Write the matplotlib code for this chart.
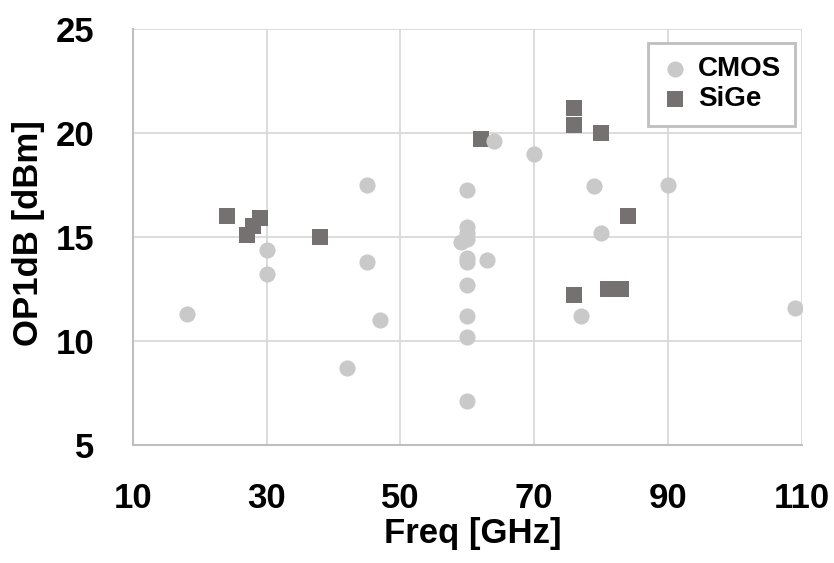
import matplotlib
matplotlib.use("Agg")
import matplotlib.pyplot as plt
from matplotlib import font_manager as fm

names = {f.name for f in fm.fontManager.ttflist}
family = "Liberation Sans Narrow" if "Liberation Sans Narrow" in names else "Liberation Sans"
plt.rcParams['font.family'] = [family, 'DejaVu Sans']
plt.rcParams['font.weight'] = 'bold'

cmos_freq = [18, 30, 30, 42, 45, 45, 47, 59, 60, 60, 60, 60, 60, 60, 60, 60, 60, 60,
             63, 64, 70, 77, 79, 80, 90, 109]
cmos_op1db = [11.3, 14.35, 13.2, 8.7, 17.5, 13.8, 11.0, 14.75, 17.25, 15.5, 15.2, 14.9,
              14.0, 13.8, 12.7, 11.2, 10.2, 7.1, 13.9, 19.6, 19.0, 11.2, 17.45, 15.2, 17.5, 11.6]

sige_freq = [24, 27, 28, 29, 38, 62, 76, 76, 76, 80, 81, 83, 84]
sige_op1db = [16.0, 15.1, 15.55, 15.9, 15.0, 19.7, 21.2, 20.4, 12.2, 20.0, 12.5, 12.5, 16.0]

xticks = [10, 30, 50, 70, 90, 110]
yticks = [5, 10, 15, 20, 25]

fs = 25

fig = plt.figure(figsize=(8.34, 5.63), dpi=100)
ax = fig.add_axes([0.1595, 0.2101, 0.9612 - 0.1595, 0.948 - 0.2101])

ax.scatter(sige_freq, sige_op1db, s=120, marker='s', color='#767171', zorder=3,
           label='SiGe', linewidths=0)
ax.scatter(cmos_freq, cmos_op1db, s=135, marker='o', color='#C9C9C9', zorder=4,
           label='CMOS', linewidths=0)

ax.set_xlim(10, 110)
ax.set_ylim(5, 25)
ax.set_xticks(xticks)
ax.set_yticks(yticks)
ax.grid(True, color='#D9D9D9', linewidth=1.3, zorder=0)
ax.set_axisbelow(True)

for s in ['top', 'right']:
    ax.spines[s].set_visible(False)
for s in ['left', 'bottom']:
    ax.spines[s].set_color('#BFBFBF')
    ax.spines[s].set_linewidth(1.5)

ax.tick_params(axis='both', length=0, labelsize=fs)
ax.tick_params(axis='x', pad=27)
ax.tick_params(axis='y', pad=28)
for lab in ax.get_xticklabels() + ax.get_yticklabels():
    lab.set_fontweight('bold')

ax.set_xlabel('Freq [GHz]', fontsize=fs, fontweight='bold')
ax.set_ylabel('OP1dB [dBm]', fontsize=fs, fontweight='bold')
ax.xaxis.set_label_coords(0.508, -0.175)
ax.yaxis.set_label_coords(-0.132, 0.51)

handles, labels = ax.get_legend_handles_labels()
order = [1, 0]
leg = ax.legend([handles[i] for i in order], [labels[i] for i in order],
                loc='upper right', bbox_to_anchor=(0.990, 0.968),
                prop={'size': 20, 'weight': 'bold'}, frameon=True, fancybox=False,
                handletextpad=0.33, borderpad=0.5, labelspacing=0.12,
                handlelength=0.95, borderaxespad=0)
leg.get_frame().set_edgecolor('#BFBFBF')
leg.get_frame().set_linewidth(2)
leg.get_frame().set_alpha(1)

fig.savefig('out.png', dpi=100)
